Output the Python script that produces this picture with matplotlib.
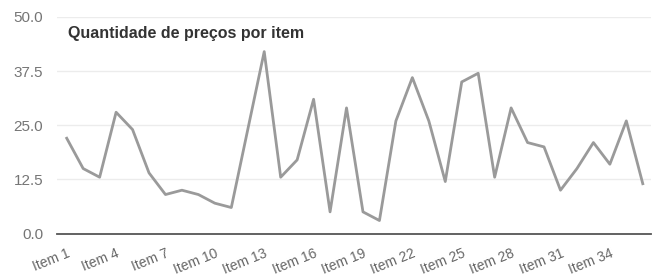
import numpy as np
import matplotlib.pyplot as plt

plt.rcParams['font.family'] = ['Liberation Sans', 'DejaVu Sans']

itens = [f'Item {i}' for i in range(1, 37)]
precos = [22, 15, 13, 28, 24, 14, 9, 10, 9, 7, 6, 24, 42, 13, 17, 31, 5, 29, 5, 3,
          26, 36, 26, 12, 35, 37, 13, 29, 21, 20, 10, 15, 21, 16, 26, 11.5]
yticks = [0, 12.5, 25, 37.5, 50]

fig = plt.figure(figsize=(6.56, 2.78), dpi=100)
ax = fig.add_axes([0.0869, 0.16, 0.9055, 0.779])
x = np.arange(len(itens))
ax.plot(x, precos, color='#9a9a9a', lw=2)
ax.set_ylim(0, 50)
ax.set_xlim(-0.59, 35.5)
ax.set_yticks(yticks)
ax.set_yticklabels([f'{v:.1f}' for v in yticks], color='#757575', fontsize=11)
ax.grid(axis='y', color='#ececec', lw=1)
ax.set_axisbelow(True)
ax.set_xticks(x[::3])
ax.set_xticklabels(itens[::3], rotation=22, ha='right', rotation_mode='anchor',
                   color='#666666', fontsize=10)
ax.tick_params(axis='y', length=0, pad=10)
ax.tick_params(axis='x', length=0, pad=9)
for s in ['left', 'right', 'top']:
    ax.spines[s].set_visible(False)
ax.spines['bottom'].set_color('#555555')
ax.spines['bottom'].set_linewidth(1.3)
fig.text(0.103, 0.88, 'Quantidade de preços por item', fontsize=11.5,
         fontweight='bold', color='#333333', va='center')
fig.savefig('out.png', dpi=100)
